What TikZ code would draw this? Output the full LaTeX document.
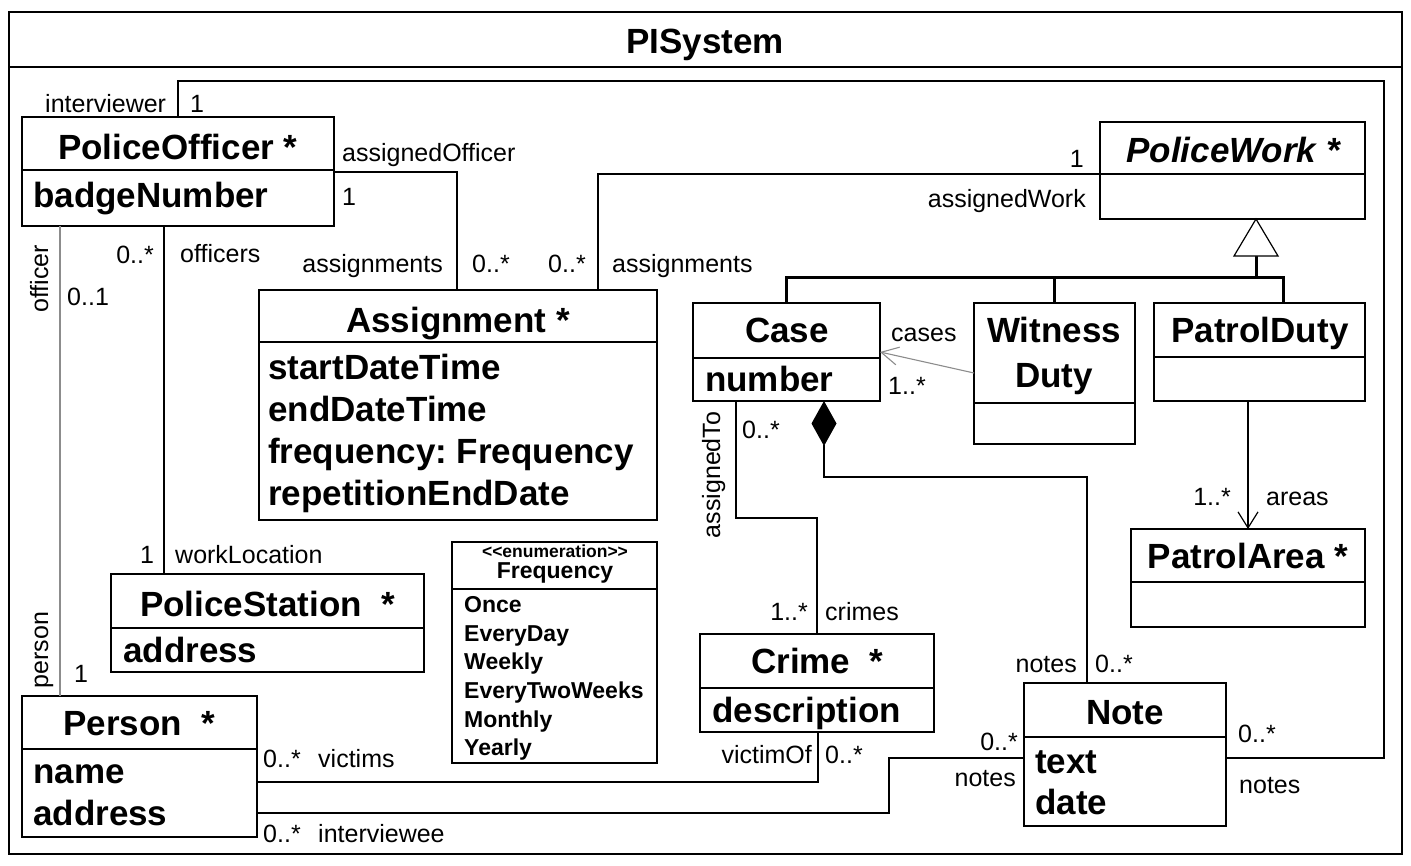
\documentclass[tikz,border=0pt]{standalone}
\usepackage{fontspec}
\setmainfont{Liberation Sans}
\usetikzlibrary{arrows.meta}
\frenchspacing
\begin{document}
\begin{tikzpicture}[x=1pt,y=-1pt,
  cls/.style={draw, line width=1.2pt, inner sep=0pt, outer sep=0pt, anchor=north west},
  big/.style={font=\fontsize{35}{40}\selectfont\bfseries, inner sep=0pt},
  attr/.style={font=\fontsize{35}{40}\selectfont\bfseries, inner sep=0pt, anchor=base west},
  lbl/.style={font=\fontsize{25}{30}\selectfont, inner sep=0pt, anchor=base west},
  enumitem/.style={font=\fontsize{23}{27}\selectfont\bfseries, inner sep=0pt, anchor=base west},
  conn/.style={line width=1.2pt},
  faint/.style={line width=1.1pt, draw=black!45},
  gen/.style={line width=3pt}]
\useasboundingbox (0,0) rectangle (1411,865);

% system frame
\node[cls, minimum width=1393pt, minimum height=842pt] (sys) at (9,12) {};
\draw[conn] (sys.west |- 0,67) -- (sys.east |- 0,67);
\node[big, anchor=base] (systitle) at (705,53) {PISystem};

% classes
\node[cls, minimum width=312pt, minimum height=109pt] (po) at (22,117) {};
\draw[conn] (po.west |- 0,170) -- (po.east |- 0,170);
\node[attr] (potitle) at (58,159) {PoliceOfficer *};
\node[attr] (poattr) at (33,207) {badgeNumber};

\node[cls, minimum width=398pt, minimum height=230pt] (asg) at (259,290) {};
\draw[conn] (asg.west |- 0,342) -- (asg.east |- 0,342);
\node[big, anchor=base] (asgtitle) at (458,332) {Assignment *};
\node[attr] (asga1) at (268,379) {startDateTime};
\node[attr] (asga2) at (268,421) {endDateTime};
\node[attr] (asga3) at (268,463) {frequency:\ Frequency};
\node[attr] (asga4) at (268,505) {repetitionEndDate};

\node[cls, minimum width=265pt, minimum height=97pt] (pw) at (1100,122) {};
\draw[conn] (pw.west |- 0,174) -- (pw.east |- 0,174);
\node[big, anchor=base, font=\fontsize{35}{40}\selectfont\bfseries\itshape] (pwtitle) at (1233,162) {PoliceWork *};

\node[cls, minimum width=187pt, minimum height=98pt] (case) at (693,303) {};
\draw[conn] (case.west |- 0,358) -- (case.east |- 0,358);
\node[big, anchor=base] (casetitle) at (787,342) {Case};
\node[attr] (caseattr) at (705,391) {number};

\node[cls, minimum width=161pt, minimum height=141pt] (wd) at (974,303) {};
\draw[conn] (wd.west |- 0,403) -- (wd.east |- 0,403);
\node[big, anchor=base] (wdtitle1) at (1054,342) {Witness};
\node[big, anchor=base] (wdtitle2) at (1054,387) {Duty};

\node[cls, minimum width=211pt, minimum height=98pt] (pd) at (1154,303) {};
\draw[conn] (pd.west |- 0,357) -- (pd.east |- 0,357);
\node[big, anchor=base] (pdtitle) at (1260,342) {PatrolDuty};

\node[cls, minimum width=234pt, minimum height=98pt] (pa) at (1131,529) {};
\draw[conn] (pa.west |- 0,582) -- (pa.east |- 0,582);
\node[big, anchor=base] (patitle) at (1248,568) {PatrolArea *};

\node[cls, minimum width=313pt, minimum height=98pt] (ps) at (111,574) {};
\draw[conn] (ps.west |- 0,628) -- (ps.east |- 0,628);
\node[attr] (pstitle) at (140,616) {PoliceStation\hspace{19.5pt}*};
\node[attr] (psattr) at (123,662) {address};

\node[cls, minimum width=235pt, minimum height=141pt] (person) at (22,696) {};
\draw[conn] (person.west |- 0,749) -- (person.east |- 0,749);
\node[attr] (persontitle) at (63,735) {Person\hspace{19.5pt}*};
\node[attr] (persona1) at (33,783) {name};
\node[attr] (persona2) at (33,825) {address};

\node[cls, minimum width=205pt, minimum height=221pt] (freq) at (452,542) {};
\draw[conn] (freq.west |- 0,589) -- (freq.east |- 0,589);
\node[anchor=base, inner sep=0pt, font=\fontsize{17.5}{20}\selectfont\bfseries] (freqst) at (555,557) {<{}<enumeration>{}>};
\node[anchor=base, inner sep=0pt, font=\fontsize{23}{27}\selectfont\bfseries] (freqtitle) at (555,578) {Frequency};
\node[enumitem] (f1) at (464,612) {Once};
\node[enumitem] (f2) at (464,641) {EveryDay};
\node[enumitem] (f3) at (464,669) {Weekly};
\node[enumitem] (f4) at (464,698) {EveryTwoWeeks};
\node[enumitem] (f5) at (464,727) {Monthly};
\node[enumitem] (f6) at (464,755) {Yearly};

\node[cls, minimum width=234pt, minimum height=98pt] (crime) at (700,634) {};
\draw[conn] (crime.west |- 0,688) -- (crime.east |- 0,688);
\node[attr] (crimetitle) at (751,673) {Crime\hspace{19.5pt}*};
\node[attr] (crimeattr) at (712,722) {description};

\node[cls, minimum width=202pt, minimum height=143pt] (note) at (1024,683) {};
\draw[conn] (note.west |- 0,737) -- (note.east |- 0,737);
\node[big, anchor=base] (notetitle) at (1125,724) {Note};
\node[attr] (notea1) at (1035,773) {text};
\node[attr] (notea2) at (1035,814) {date};

% connectors
\draw[conn] (po.north -| 178,0) -- (178,81) -- (1384,81) -- (1384,758) -- (note.east |- 0,758);
\draw[conn] (po.east |- 0,172) -- (457,172) -- (asg.north -| 457,0);
\draw[conn] (asg.north -| 598,0) -- (598,174) -- (pw.west |- 0,174);
\draw[gen] (case.north) |- (1283,277) -- (pd.north -| 1283,0);
\draw[gen] (wd.north) -- (wd.north |- 0,277);
\coordinate (tribase) at (1256,256);
\draw[gen] (tribase) -- (tribase |- 0,278);
\draw[conn, fill=white] (pw.south -| tribase) -- (tribase -| 1278,0) -- (tribase -| 1234,0) -- cycle;
\draw[faint, -{Straight Barb[length=17pt,width=18pt]}] (wd.west |- 0,373) -- (case.east |- 0,352);
\draw[conn, -{Straight Barb[length=16pt,width=20pt]}] (pd.south -| 1248,0) -- (pa.north -| 1248,0);
\draw[conn] (case.south -| 736,0) -- (736,518) -- (817,518) -- (crime.north -| 817,0);
\draw[conn, {Diamond[length=45pt,width=25pt]}-] (case.south -| 824,0) -- (824,477) -- (1087,477) -- (note.north -| 1087,0);
\draw[conn] (po.south -| 164,0) -- (ps.north -| 164,0);
\draw[faint] (po.south -| 60,0) -- (person.north -| 60,0);
\draw[conn] (person.east |- 0,782) -- (818,782) -- (crime.south -| 818,0);
\draw[conn] (person.east |- 0,813) -- (889,813) -- (889,758) -- (note.west |- 0,758);

% labels
\node[lbl] (l1) at (45,112) {interviewer};
\node[lbl] (l2) at (190,112) {1};
\node[lbl] (l3) at (342,161) {assignedOfficer};
\node[lbl] (l4) at (342,205) {1};
\node[lbl, anchor=base east] (l5) at (443,272) {assignments};
\node[lbl] (l6) at (472,272) {0..*};
\node[lbl] (l7) at (548,272) {0..*};
\node[lbl] (l8) at (612,272) {assignments};
\node[lbl, anchor=base east] (l9) at (1084,167) {1};
\node[lbl, anchor=base east] (l10) at (1086,207) {assignedWork};
\node[lbl] (l11) at (891,341) {cases};
\node[lbl] (l12) at (888,394) {1..*};
\node[lbl, anchor=base east] (l13) at (1231,505) {1..*};
\node[lbl] (l14) at (1266,505) {areas};
\node[lbl] (l15) at (742,438) {0..*};
\node[lbl, rotate=90, anchor=base] (l16) at (720,475) {assignedTo};
\node[lbl, anchor=base east] (l17) at (808,620) {1..*};
\node[lbl] (l18) at (825,620) {crimes};
\node[lbl, anchor=base east] (l19) at (1077,672) {notes};
\node[lbl] (l20) at (1095,672) {0..*};
\node[lbl, anchor=base east] (l21) at (154,263) {0..*};
\node[lbl] (l22) at (180,262) {officers};
\node[lbl, rotate=90, anchor=base] (l23) at (48,279) {officer};
\node[lbl] (l24) at (67,305) {0..1};
\node[lbl] (l25) at (140,563) {1};
\node[lbl] (l26) at (175,563) {workLocation};
\node[lbl, rotate=90, anchor=base] (l27) at (48,650) {person};
\node[lbl] (l28) at (74,682) {1};
\node[lbl] (l29) at (263,767) {0..*};
\node[lbl] (l30) at (318,767) {victims};
\node[lbl, anchor=base east] (l31) at (812,763) {victimOf};
\node[lbl] (l32) at (825,763) {0..*};
\node[lbl, anchor=base east] (l33) at (1018,750) {0..*};
\node[lbl, anchor=base east] (l34) at (1016,786) {notes};
\node[lbl] (l35) at (263,842) {0..*};
\node[lbl] (l36) at (318,842) {interviewee};
\node[lbl] (l37) at (1238,742) {0..*};
\node[lbl] (l38) at (1239,793) {notes};
\end{tikzpicture}
\end{document}
